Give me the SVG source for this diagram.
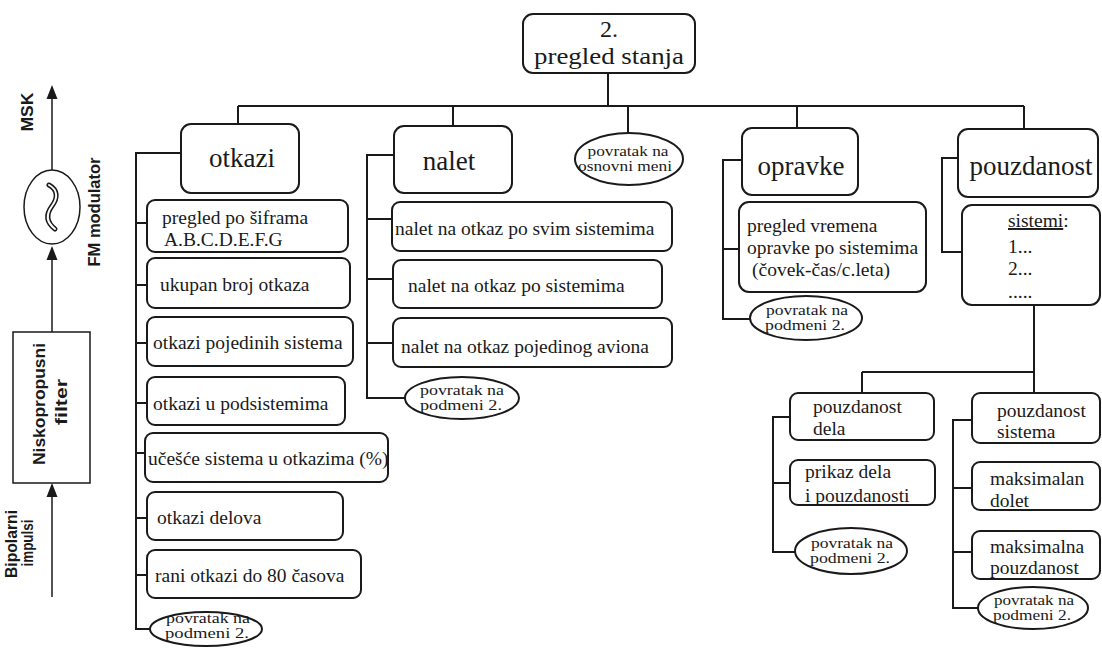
<svg xmlns="http://www.w3.org/2000/svg" width="1102" height="649" viewBox="0 0 1102 649">
<style>
.box{fill:#fff;stroke:#1a1a1a;stroke-width:2}
.ln{fill:none;stroke:#1a1a1a;stroke-width:2}
.t{font-family:"Liberation Serif","Times New Roman",serif;font-size:19.5px;fill:#1a1a1a}
.h{font-size:27px;text-anchor:middle}
.r{font-size:24px;text-anchor:middle}
.e{font-size:15px;text-anchor:middle}
.s{font-family:"Liberation Sans",Arial,sans-serif;font-weight:bold;font-size:16px;text-anchor:middle;fill:#1a1a1a}
.thin{fill:none;stroke:#1a1a1a;stroke-width:1.5}
</style>
<rect width="1102" height="649" fill="#fff"/>

<g id="signal-chain">
<path class="thin" d="M52,597 V485"/>
<path d="M46.5,497 L52,483 L57.5,497 Z" fill="#1a1a1a"/>
<rect class="thin" x="13" y="332" width="77" height="151" fill="#fff"/>
<path class="thin" d="M52,332 V249"/>
<path d="M46.5,260 L52,246 L57.5,260 Z" fill="#1a1a1a"/>
<ellipse class="thin" cx="52" cy="207" rx="28" ry="37" fill="#fff"/>
<path d="M49,185 C58,190 58,198 52,206 C46,214 46,222 55,229" fill="none" stroke="#1a1a1a" stroke-width="5" stroke-linecap="round"/>
<path d="M49,185 C58,190 58,198 52,206 C46,214 46,222 55,229" fill="none" stroke="#fff" stroke-width="2" stroke-linecap="round"/>
<path class="thin" d="M52,170 V88"/>
<path d="M46.5,99 L52,85 L57.5,99 Z" fill="#1a1a1a"/>
<text class="s" transform="rotate(-90 33 112)" x="33" y="112" textLength="39" lengthAdjust="spacingAndGlyphs">MSK</text>
<text class="s" transform="rotate(-90 100 212)" x="100" y="212" textLength="109" lengthAdjust="spacingAndGlyphs">FM modulator</text>
<text class="s" transform="rotate(-90 45 404)" x="45" y="404" textLength="122" lengthAdjust="spacingAndGlyphs">Niskopropusni</text>
<text class="s" transform="rotate(-90 67 402)" x="67" y="402" textLength="46" lengthAdjust="spacingAndGlyphs">filter</text>
<text class="s" transform="rotate(-90 17 544)" x="17" y="544" textLength="68" lengthAdjust="spacingAndGlyphs">Bipolarni</text>
<text class="s" transform="rotate(-90 33 543)" x="33" y="543" textLength="47" lengthAdjust="spacingAndGlyphs">impulsi</text>
</g>

<g id="connectors">
<path class="ln" d="M608,73 V106 M238,106 H1024 M238,106 V124 M453,106 V126 M628,106 V133 M797,106 V128 M1024,106 V129"/>
<path class="ln" d="M181,153 H136 V629 H150 M136,223 H147 M136,285 H147 M136,343 H147 M136,403 H147 M136,453 H145 M136,518 H147 M136,575 H147"/>
<path class="ln" d="M394,155 H367 V398 H405 M367,219 H392 M367,279 H393 M367,343 H393"/>
<path class="ln" d="M742,160 H723 V319 H750 M723,249 H739"/>
<path class="ln" d="M958,158 H942 V252 H962"/>
<path class="ln" d="M1034,305 V393 M862,372 H1034 M862,372 V393"/>
<path class="ln" d="M790,417 H773 V552 H795 M773,483 H790"/>
<path class="ln" d="M972,420 H953 V608 H978 M953,488 H972 M953,552 H972"/>
</g>

<g id="n-root"><rect class="box" x="523" y="14" width="172" height="59" rx="10"/>
<text class="t r" x="609" y="37">2.</text><text class="t r" x="609" y="64" textLength="150" lengthAdjust="spacingAndGlyphs">pregled stanja</text></g>

<g id="n-otkazi"><rect class="box" x="181" y="124" width="118" height="69" rx="10"/><text class="t h" x="242" y="167">otkazi</text></g>
<g id="n-nalet"><rect class="box" x="394" y="126" width="118" height="67" rx="10"/><text class="t h" x="449" y="170">nalet</text></g>
<g id="n-povratak-osnovni"><ellipse class="box" cx="629" cy="159" rx="54" ry="26"/>
<text class="t e" x="628" y="156" textLength="81" lengthAdjust="spacingAndGlyphs">povratak na</text>
<text class="t e" x="625" y="171" textLength="94" lengthAdjust="spacingAndGlyphs">osnovni meni</text></g>
<g id="n-opravke"><rect class="box" x="742" y="128" width="116" height="67" rx="10"/><text class="t h" x="801" y="175">opravke</text></g>
<g id="n-pouzdanost"><rect class="box" x="958" y="129" width="140" height="68" rx="10"/><text class="t h" x="1031" y="175">pouzdanost</text></g>

<g id="n-otk-1"><rect class="box" x="147" y="200" width="201" height="52" rx="8"/><text class="t" x="162" y="224">pregled po šiframa</text><text class="t" x="164" y="246">A.B.C.D.E.F.G</text></g>
<g id="n-otk-2"><rect class="box" x="147" y="258" width="203" height="50" rx="8"/><text class="t" x="160" y="291">ukupan broj otkaza</text></g>
<g id="n-otk-3"><rect class="box" x="147" y="317" width="206" height="49" rx="8"/><text class="t" x="153" y="349">otkazi pojedinih sistema</text></g>
<g id="n-otk-4"><rect class="box" x="147" y="377" width="198" height="48" rx="8"/><text class="t" x="153" y="410">otkazi u podsistemima</text></g>
<g id="n-otk-5"><rect class="box" x="145" y="433" width="243" height="49" rx="8"/><text class="t" x="148" y="465">učešće sistema u otkazima (%)</text></g>
<g id="n-otk-6"><rect class="box" x="147" y="492" width="196" height="48" rx="8"/><text class="t" x="157" y="524">otkazi delova</text></g>
<g id="n-otk-7"><rect class="box" x="147" y="550" width="214" height="48" rx="8"/><text class="t" x="155" y="582">rani otkazi do 80 časova</text></g>
<g id="n-otk-8"><ellipse class="box" cx="206" cy="629" rx="56" ry="17"/>
<text class="t e" x="208" y="623" textLength="84" lengthAdjust="spacingAndGlyphs">povratak na</text>
<text class="t e" x="207" y="638" textLength="84" lengthAdjust="spacingAndGlyphs">podmeni 2.</text></g>

<g id="n-nal-1"><rect class="box" x="392" y="202" width="280" height="49" rx="8"/><text class="t" x="395" y="235">nalet na otkaz po svim sistemima</text></g>
<g id="n-nal-2"><rect class="box" x="393" y="260" width="269" height="48" rx="8"/><text class="t" x="408" y="292">nalet na otkaz po sistemima</text></g>
<g id="n-nal-3"><rect class="box" x="393" y="318" width="279" height="49" rx="8"/><text class="t" x="401" y="353">nalet na otkaz pojedinog aviona</text></g>
<g id="n-nal-4"><ellipse class="box" cx="462" cy="398" rx="57" ry="21"/>
<text class="t e" x="462" y="395" textLength="84" lengthAdjust="spacingAndGlyphs">povratak na</text>
<text class="t e" x="461" y="410" textLength="82" lengthAdjust="spacingAndGlyphs">podmeni 2.</text></g>

<g id="n-opr-1"><rect class="box" x="739" y="202" width="187" height="90" rx="10"/>
<text class="t" x="747" y="232">pregled vremena</text><text class="t" x="747" y="254">opravke po sistemima</text><text class="t" x="752" y="276">(čovek-čas/c.leta)</text></g>
<g id="n-opr-2"><ellipse class="box" cx="806" cy="318" rx="56" ry="22"/>
<text class="t e" x="807" y="315" textLength="82" lengthAdjust="spacingAndGlyphs">povratak na</text>
<text class="t e" x="805" y="330" textLength="80" lengthAdjust="spacingAndGlyphs">podmeni 2.</text></g>

<g id="n-sistemi"><rect class="box" x="962" y="205" width="138" height="100" rx="10"/>
<text class="t" x="1008" y="227"><tspan text-decoration="underline">sistemi</tspan>:</text>
<text class="t" x="1008" y="253">1...</text><text class="t" x="1008" y="275">2...</text><text class="t" x="1008" y="298">.....</text></g>

<g id="n-pd"><rect class="box" x="790" y="393" width="144" height="47" rx="8"/><text class="t" x="813" y="413">pouzdanost</text><text class="t" x="813" y="435">dela</text></g>
<g id="n-prikaz"><rect class="box" x="790" y="460" width="145" height="45" rx="8"/><text class="t" x="805" y="478">prikaz dela</text><text class="t" x="805" y="502">i pouzdanosti</text></g>
<g id="n-pd-back"><ellipse class="box" cx="851" cy="551" rx="56" ry="23"/>
<text class="t e" x="852" y="548" textLength="82" lengthAdjust="spacingAndGlyphs">povratak na</text>
<text class="t e" x="850" y="563" textLength="80" lengthAdjust="spacingAndGlyphs">podmeni 2.</text></g>

<g id="n-ps"><rect class="box" x="972" y="393" width="128" height="50" rx="8"/><text class="t" x="997" y="417">pouzdanost</text><text class="t" x="997" y="438">sistema</text></g>
<g id="n-md"><rect class="box" x="972" y="462" width="128" height="48" rx="8"/><text class="t" x="990" y="485">maksimalan</text><text class="t" x="990" y="507">dolet</text></g>
<g id="n-mp"><rect class="box" x="972" y="531" width="128" height="48" rx="8"/><text class="t" x="990" y="553">maksimalna</text><text class="t" x="990" y="574">pouzdanost</text></g>
<g id="n-ps-back"><ellipse class="box" cx="1033" cy="608" rx="55" ry="21"/>
<text class="t e" x="1034" y="605" textLength="80" lengthAdjust="spacingAndGlyphs">povratak na</text>
<text class="t e" x="1032" y="620" textLength="78" lengthAdjust="spacingAndGlyphs">podmeni 2.</text></g>
</svg>
